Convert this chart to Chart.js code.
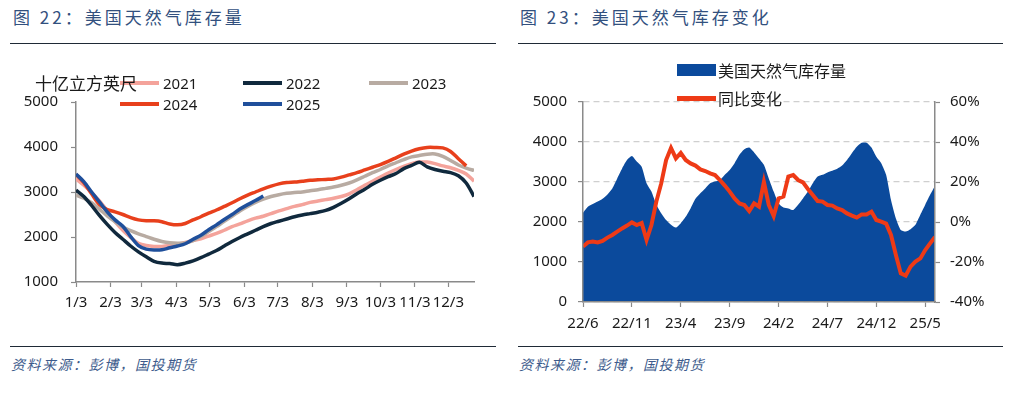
<!DOCTYPE html>
<html>
<head>
<meta charset="utf-8">
<script src="https://cdn.jsdelivr.net/npm/chart.js@4.4.1/dist/chart.umd.min.js"></script>
<style>
body { margin: 0; background: #fff; }
#page { position: relative; width: 1011px; height: 394px; overflow: hidden; font-family: "Noto Sans", "Noto Sans CJK SC", sans-serif; color: #1a1a1a; }
.title { position: absolute; top: 7px; line-height: 20px; font-family: "Noto Sans CJK SC", sans-serif; font-size: 17px; letter-spacing: 3px; color: #32507e; white-space: nowrap; }
.rule { position: absolute; height: 0; border-top: 1.5px solid #1f2a36; }
.src { position: absolute; top: 354px; line-height: 20px; font-family: "Noto Sans CJK SC", sans-serif; font-style: italic; font-size: 14px; letter-spacing: 1.5px; color: #3d5b8c; white-space: nowrap; }
.box { position: absolute; top: 60px; height: 290px; }
.unit { position: absolute; left: 35px; top: 72px; font-family: "Noto Sans CJK SC", sans-serif; font-size: 17px; line-height: 22px; z-index: 3; white-space: nowrap; }
#legL { position: absolute; left: 120px; top: 72px; display: grid; grid-template-columns: 123px 126px 120px; grid-auto-rows: 21px; z-index: 2; }
#legR { position: absolute; left: 677px; top: 56px; z-index: 2; }
.item { display: flex; align-items: center; font-size: 15px; white-space: nowrap; }
.swatch { display: inline-block; width: 39px; margin-right: 4px; }
#legR .item { height: 28px; font-family: "Noto Sans CJK SC", sans-serif; font-size: 16px; }
#legR .swatch { margin-right: 2px; }
</style>
</head>
<body>
<div id="page">
  <div class="title" style="left:13px">图 22：美国天然气库存量</div>
  <div class="title" style="left:520px">图 23：美国天然气库存变化</div>
  <div class="rule" style="left:10px; width:486px; top:43px"></div>
  <div class="rule" style="left:518px; width:485px; top:43px"></div>

  <div class="box" style="left:0; width:500px"><canvas id="left" width="500" height="290"></canvas></div>
  <div class="box" style="left:505px; width:506px"><canvas id="right" width="506" height="290"></canvas></div>

  <div class="unit">十亿立方英尺</div>
  <div id="legL"></div>
  <div id="legR"></div>

  <div class="rule" style="left:10px; width:486px; top:346px"></div>
  <div class="rule" style="left:518px; width:485px; top:346px"></div>
  <div class="src" style="left:11px">资料来源：彭博，国投期货</div>
  <div class="src" style="left:519px">资料来源：彭博，国投期货</div>
</div>

<script>
// ---- chart 22: weekly storage by year (bcf), first week = 1/3
const years = ['2021', '2022', '2023', '2024', '2025'];
const y2021 = [3290,3150,2990,2800,2580,2340,2150,1990,1860,1810,
               1790,1790,1810,1840,1880,1920,1960,2020,2080,2150,
               2230,2290,2360,2420,2460,2520,2580,2630,2680,2720,
               2770,2800,2830,2860,2900,2960,3050,3150,3240,3330,
               3420,3500,3570,3630,3665,3665,3630,3580,3540,3480,
               3400,3240];
const y2022 = [3040,2900,2700,2480,2280,2100,1950,1800,1670,1560,
               1460,1420,1410,1385,1420,1470,1540,1620,1700,1800,
               1900,1990,2070,2150,2230,2300,2350,2400,2450,2490,
               2520,2550,2590,2660,2750,2850,2960,3060,3170,3260,
               3340,3410,3520,3590,3660,3560,3500,3460,3430,3360,
               3200,2900];
const y2023 = [2930,2860,2760,2620,2470,2340,2220,2140,2070,2010,
               1950,1900,1870,1860,1870,1920,2010,2120,2230,2350,
               2460,2580,2680,2770,2840,2900,2940,2970,2990,3000,
               3030,3050,3080,3110,3150,3200,3270,3350,3430,3500,
               3580,3650,3720,3780,3810,3840,3845,3790,3700,3600,
               3530,3480];
const y2024 = [3390,3210,2960,2720,2610,2560,2500,2430,2380,2360,
               2360,2340,2290,2270,2300,2380,2450,2530,2600,2680,
               2760,2850,2930,3000,3070,3130,3180,3210,3220,3240,
               3260,3270,3280,3290,3330,3380,3430,3490,3550,3610,
               3680,3760,3840,3910,3960,3990,3990,3980,3900,3740,
               3580];
const y2025 = [3400,3230,3000,2780,2560,2380,2240,2010,1810,1730,
               1710,1715,1760,1800,1850,1950,2040,2160,2270,2390,
               2500,2620,2720,2810,2910];
const monthTicks = ['1/3','2/3','3/3','4/3','5/3','6/3','7/3','8/3','9/3','10/3','11/3','12/3'];

// ---- chart 23: storage (bcf) and yoy change (%), half-month steps from 22/6
const storage = [2230,2380,2450,2510,2580,2690,2840,3090,3340,3550,
                 3650,3510,3380,2970,2760,2430,2220,2050,1930,1860,
                 1970,2130,2340,2580,2720,2840,2970,3010,3050,3180,
                 3300,3470,3680,3820,3860,3740,3590,3430,3090,2760,
                 2470,2360,2340,2300,2430,2590,2760,2970,3140,3180,
                 3240,3280,3330,3410,3550,3720,3880,3980,3980,3860,
                 3630,3470,3180,2550,2090,1800,1760,1820,1930,2180,
                 2430,2680,2900];
const yoy = [-12.3,-10.2,-9.8,-10.2,-9.5,-7.8,-6.5,-4.8,-3.2,-1.8,
             -0.2,-1.5,-0.5,-9.0,-1.5,10.2,19.3,31,37,31.8,
             34.5,31,29.3,28.2,26.3,25.5,24.3,23.5,21,18.2,
             15.2,11.8,9.3,8.5,5.5,9.3,7.7,20,8.5,3,
             11.8,12.7,22.7,23.5,21,19.8,16.5,13.5,10.5,10.2,
             8.5,8.2,6.8,6,4.3,3.2,2.2,3.8,3.8,5.2,
             1,0.2,-0.8,-6.5,-16.5,-25.7,-26.8,-22.3,-19.8,-18.2,
             -14,-10.7,-7.5];
const periodTicks = ['22/6','22/11','23/4','23/9','24/2','24/7','24/12','25/5'];
const seriesNames = ['美国天然气库存量', '同比变化'];

const colors = ['#f4a39b', '#10293d', '#b8aba2', '#e8401c', '#1f4f9b'];
const areaColor = '#0b4a9c';
const yoyColor = '#ee3a16';
const axisColor = '#8a8a8a';

Chart.defaults.font.family = '"Noto Sans", "Noto Sans CJK SC", sans-serif';
Chart.defaults.font.size = 15;
Chart.defaults.color = '#1a1a1a';

// day offset of "m/3" from 1/3
const dayOf = lbl => {
  const [m, d] = lbl.split('/').map(Number);
  return (Date.UTC(2021, m - 1, d) - Date.UTC(2021, 0, 3)) / 864e5;
};
const tickDays = monthTicks.map(dayOf);

const yearData = [y2021, y2022, y2023, y2024, y2025];
const drawOrder = [5, 3, 4, 2, 1];

new Chart(document.getElementById('left'), {
  type: 'line',
  data: {
    datasets: years.map((yr, i) => ({
      label: yr,
      data: yearData[i].map((v, w) => ({ x: w * 7, y: v })),
      borderColor: colors[i],
      borderWidth: 3.5,
      pointRadius: 0,
      tension: 0.3,
      order: drawOrder[i]
    }))
  },
  options: {
    responsive: false,
    animation: false,
    layout: { padding: { left: 0, top: 42, right: 26, bottom: 28 } },
    plugins: { legend: { display: false }, tooltip: { enabled: false } },
    scales: {
      x: {
        type: 'linear', min: 0, max: 357,
        afterBuildTicks: s => { s.ticks = tickDays.map(v => ({ value: v })); },
        afterFit: s => { s.height = 40; },
        ticks: { autoSkip: false, maxRotation: 0, padding: 7,
                 callback: v => monthTicks[tickDays.indexOf(v)] },
        grid: { drawOnChartArea: false, tickLength: 5, tickColor: axisColor, tickWidth: 1.2 },
        border: { color: axisColor, width: 1.5 }
      },
      y: {
        min: 1000, max: 5000,
        afterFit: s => { s.width = 76; },
        ticks: { stepSize: 1000, padding: 13, autoSkip: false, callback: v => String(v) },
        grid: { drawOnChartArea: false, tickLength: 5, tickColor: axisColor, tickWidth: 1.2 },
        border: { color: axisColor, width: 1.5 }
      }
    }
  }
});

// month index counted from 22/6
const monthOf = lbl => {
  const [y, m] = lbl.split('/').map(Number);
  return (y - 22) * 12 + (m - 6);
};
const tickMonths = periodTicks.map(monthOf);

new Chart(document.getElementById('right'), {
  type: 'line',
  data: {
    datasets: [
      {
        label: seriesNames[0],
        data: storage.map((v, k) => ({ x: k / 2, y: v })),
        yAxisID: 'y',
        backgroundColor: areaColor,
        borderWidth: 0,
        fill: 'origin',
        pointRadius: 0,
        tension: 0.2,
        order: 2
      },
      {
        label: seriesNames[1],
        data: yoy.map((v, k) => ({ x: k / 2, y: v })),
        yAxisID: 'y1',
        borderColor: yoyColor,
        borderWidth: 4,
        pointRadius: 0,
        tension: 0,
        fill: false,
        order: 1
      }
    ]
  },
  options: {
    responsive: false,
    animation: false,
    layout: { padding: { left: 0, top: 42, right: 0, bottom: 8 } },
    plugins: { legend: { display: false }, tooltip: { enabled: false } },
    scales: {
      x: {
        type: 'linear', min: 0, max: 36,
        afterBuildTicks: s => { s.ticks = tickMonths.map(v => ({ value: v })); },
        afterFit: s => { s.height = 40; },
        ticks: { autoSkip: false, maxRotation: 0, padding: 8,
                 callback: v => periodTicks[tickMonths.indexOf(v)] },
        grid: { drawOnChartArea: false, tickLength: 5, tickColor: axisColor, tickWidth: 1.2 },
        border: { color: axisColor, width: 1.5, z: 1 }
      },
      y: {
        position: 'left', min: 0, max: 5000,
        afterFit: s => { s.width = 78; },
        ticks: { stepSize: 1000, padding: 11, autoSkip: false, callback: v => String(v) },
        grid: { color: '#cfcfcf', lineWidth: 1.2, tickLength: 5, tickColor: axisColor,
                tickBorderDash: [], tickWidth: 1.2 },
        border: { color: axisColor, width: 1.5, dash: [6, 4], z: 1 }
      },
      y1: {
        position: 'right', min: -40, max: 60,
        afterFit: s => { s.width = 76; },
        ticks: { stepSize: 20, padding: 10, autoSkip: false, callback: v => v + '%' },
        grid: { drawOnChartArea: false, tickLength: 5, tickColor: axisColor, tickWidth: 1.2 },
        border: { color: axisColor, width: 1.5, z: 1 }
      }
    }
  }
});

// html legends
const legL = document.getElementById('legL');
years.forEach((yr, i) => {
  const it = document.createElement('div');
  it.className = 'item';
  it.innerHTML = '<span class="swatch" style="height:4px;background:' + colors[i] + '"></span>' + yr;
  legL.appendChild(it);
});
const legR = document.getElementById('legR');
seriesNames.forEach((nm, i) => {
  const it = document.createElement('div');
  it.className = 'item';
  const sw = i === 0 ? 'height:12px;background:' + areaColor : 'height:5px;background:' + yoyColor;
  it.innerHTML = '<span class="swatch" style="' + sw + '"></span>' + nm;
  legR.appendChild(it);
});
</script>
</body>
</html>
